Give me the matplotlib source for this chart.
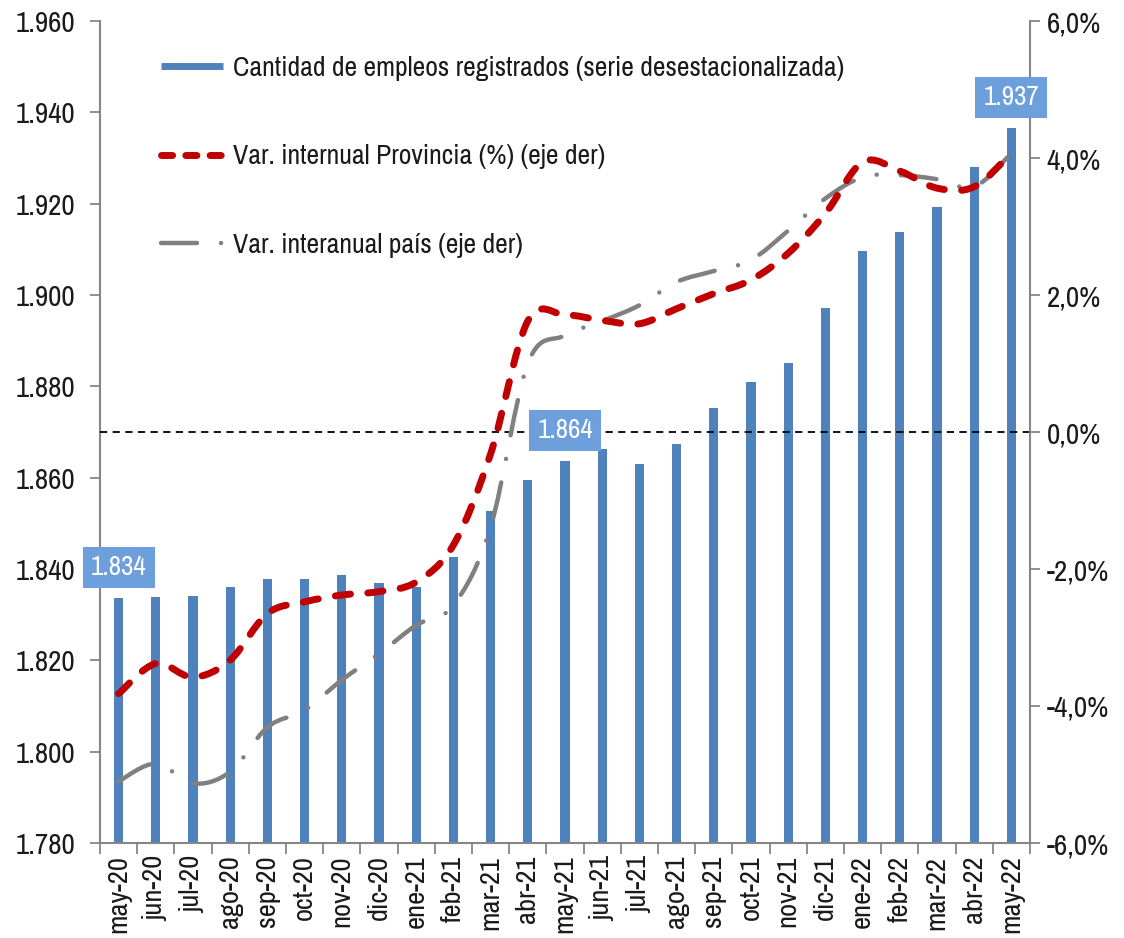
import matplotlib
matplotlib.use("Agg")
import matplotlib.pyplot as plt
import numpy as np
from matplotlib import font_manager
from matplotlib.path import Path
from matplotlib.patches import PathPatch
from matplotlib.lines import Line2D
from matplotlib.ticker import FuncFormatter, MultipleLocator, FixedLocator

# ---------------- data ----------------
months = ["may-20", "jun-20", "jul-20", "ago-20", "sep-20", "oct-20", "nov-20", "dic-20",
          "ene-21", "feb-21", "mar-21", "abr-21", "may-21", "jun-21", "jul-21", "ago-21",
          "sep-21", "oct-21", "nov-21", "dic-21", "ene-22", "feb-22", "mar-22", "abr-22", "may-22"]

empleos = [1833.6, 1833.8, 1834.1, 1836.0, 1837.9, 1837.8, 1838.6, 1836.9,
           1836.1, 1842.7, 1852.7, 1859.5, 1863.6, 1866.3, 1862.9, 1867.3,
           1875.3, 1880.9, 1885.1, 1897.1, 1909.6, 1913.8, 1919.3, 1928.0, 1936.6]

var_provincia = [-3.82, -3.38, -3.58, -3.33, -2.65, -2.48, -2.38, -2.33,
                 -2.19, -1.65, -0.32, 1.62, 1.71, 1.63, 1.58, 1.80,
                 2.02, 2.22, 2.61, 3.19, 3.94, 3.81, 3.56, 3.58, 4.07]

var_pais = [-5.10, -4.84, -5.13, -4.96, -4.31, -4.06, -3.62, -3.24,
            -2.82, -2.53, -1.39, 1.00, 1.41, 1.62, 1.85, 2.19,
            2.35, 2.51, 2.94, 3.41, 3.72, 3.75, 3.69, 3.58, 4.07]

label_idx = [0, 12, 24]

label_bar = "Cantidad de empleos registrados (serie desestacionalizada)"
label_prov = "Var. internual Provincia (%) (eje der)"
label_pais = "Var. interanual país (eje der)"

# ---------------- fonts ----------------
narrow = None
for f in font_manager.fontManager.ttflist:
    n = f.name
    if ("Narrow" in n or "Condensed" in n) and "Mono" not in n and "Serif" not in n:
        if narrow is None or "Liberation" in n:
            narrow = n
if narrow:
    plt.rcParams["font.family"] = [narrow, "DejaVu Sans"]
    FS_TICK, FS_LEG, FS_LBL, FS_X = 21, 20, 19.5, 20.5
else:
    plt.rcParams["font.family"] = ["Liberation Sans", "DejaVu Sans"]
    FS_TICK, FS_LEG, FS_LBL, FS_X = 18, 16.5, 17, 17.5

BLUE = "#4F81BD"
RED = "#C00000"
GRAY = "#808080"
SPINE = "#868686"
LBL = "#6C9FDC"
TXT = "#1a1a1a"

fig = plt.figure(figsize=(11.24, 9.38), dpi=100)
L, R, B, T = 100/1124, 1030/1124, 1 - 843/938, 1 - 21/938
ax = fig.add_axes([L, B, R - L, T - B])
ax2 = ax.twinx()

x = np.arange(len(months))
ax.bar(x, empleos, width=0.25, color=BLUE, zorder=2)
ax.set_xlim(-0.5, len(months) - 0.5)
ax.set_ylim(1780, 1960)
ax.yaxis.set_major_locator(MultipleLocator(20))
ax.yaxis.set_major_formatter(FuncFormatter(lambda v, p: f"{v/1000:.3f}"))

ax2.set_ylim(-6, 6)
ax2.yaxis.set_major_locator(MultipleLocator(2))
ax2.yaxis.set_major_formatter(FuncFormatter(lambda v, p: f"{v:.1f}%".replace(".", ",")))

# zero line
ax2.axhline(0, color="black", lw=1.3, ls=(0, (4, 3)), zorder=1)

# smooth curves (Excel-like Bezier through the data points)
def smooth_path(xs, ys):
    pts = np.column_stack([xs, ys]).astype(float)
    n = len(pts)
    verts = [pts[0]]
    codes = [Path.MOVETO]
    for i in range(n - 1):
        p0 = pts[i - 1] if i > 0 else pts[i]
        p1 = pts[i]
        p2 = pts[i + 1]
        p3 = pts[i + 2] if i + 2 < n else pts[i + 1]
        c1 = p1 + (p2 - p0) / 6.0
        c2 = p2 - (p3 - p1) / 6.0
        verts += [c1, c2, p2]
        codes += [Path.CURVE4] * 3
    return Path(verts, codes)

gray_ls = (0, (8.1, 5.4, 0.01, 5.4))
red_ls = (0, (2.2, 2.5))
pg = PathPatch(smooth_path(x, var_pais), fill=False, ec=GRAY, lw=3.2,
               ls=gray_ls, capstyle="round", transform=ax2.transData, zorder=3)
pr = PathPatch(smooth_path(x, var_provincia), fill=False, ec=RED, lw=5.0,
               ls=red_ls, capstyle="round", transform=ax2.transData, zorder=4)
ax2.add_patch(pg)
ax2.add_patch(pr)

# data labels (on the top axes so the boxes hide the zero line)
for i in label_idx:
    ax2.annotate(f"{empleos[i]/1000:.3f}", xy=(x[i], empleos[i]),
                 xycoords=ax.transData, xytext=(0, 22),
                 textcoords="offset points", ha="center", va="center",
                 fontsize=FS_LBL, color="white", zorder=6,
                 bbox=dict(boxstyle="square,pad=0.3", fc=LBL, ec="none"))

# axes styling
for a in (ax, ax2):
    a.spines["top"].set_visible(False)
    for s in ("left", "right", "bottom"):
        a.spines[s].set_color(SPINE)
        a.spines[s].set_linewidth(1.5)
ax.spines["right"].set_visible(False)
ax2.spines["left"].set_visible(False)
ax2.spines["bottom"].set_visible(False)

ax.tick_params(axis="y", which="major", direction="out", length=7, width=1.3,
               color=SPINE, labelsize=FS_TICK, labelcolor=TXT, pad=10.5)
ax2.tick_params(axis="y", which="major", direction="out", length=7, width=1.3,
                color=SPINE, labelsize=FS_TICK, labelcolor=TXT, pad=5)

ax.set_xticks(x)
ax.set_xticklabels(months, rotation=90, fontsize=FS_X, color=TXT)
ax.xaxis.set_minor_locator(FixedLocator(np.arange(-0.5, len(months), 1.0)))
ax.tick_params(axis="x", which="major", length=0, pad=9)
ax.tick_params(axis="x", which="minor", direction="out", length=8, width=1.3, color=SPINE)

ax2.patch.set_visible(False)

# legend
h_bar = Line2D([], [], color=BLUE, lw=5.0, solid_capstyle="butt")
h_prov = Line2D([], [], color=RED, lw=5.0, ls=(0, (1.6, 1.9)), dash_capstyle="round")
h_pais = Line2D([], [], color=GRAY, lw=3.2, ls=(0, (8.1, 5.4, 0.01, 5.4)), dash_capstyle="round")
leg = ax2.legend([h_bar, h_prov, h_pais], [label_bar, label_prov, label_pais],
                 loc="upper left", bbox_to_anchor=(161/1124, 1 - 56/938),
                 bbox_transform=fig.transFigure, frameon=False, fontsize=FS_LEG,
                 handlelength=2.23, handletextpad=0.36, labelspacing=2.28,
                 borderpad=0, borderaxespad=0)
for t in leg.get_texts():
    t.set_color(TXT)

fig.savefig("out.png", dpi=100)
